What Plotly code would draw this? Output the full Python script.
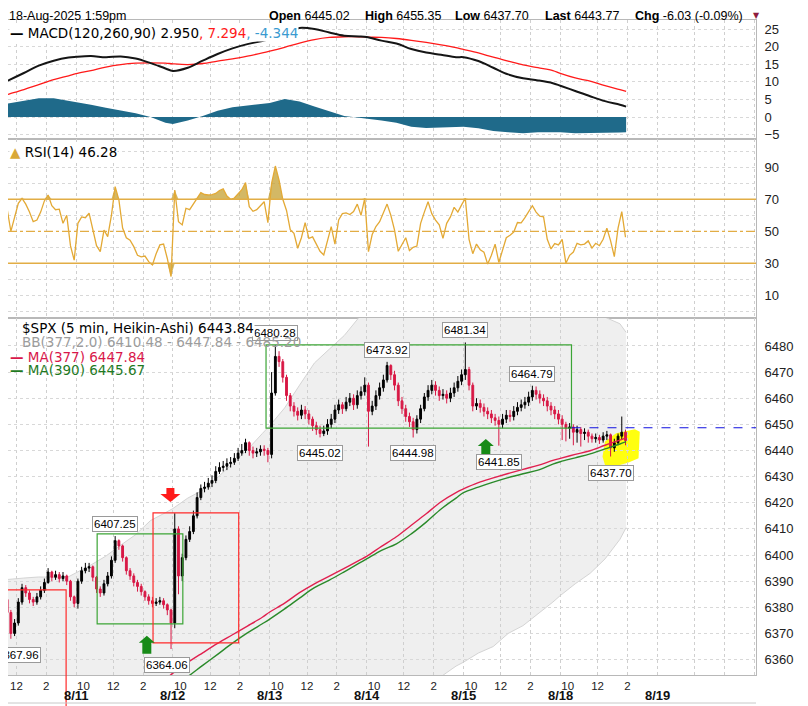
import plotly.graph_objects as go
from plotly.subplots import make_subplots

# trading sessions on the axis, each one is 78 five-minute bars wide (no overnight gaps)
SESSIONS = ["08-08", "08-11", "08-12", "08-13", "08-14", "08-15", "08-18", "08-19", "08-20"]
DATE_LABELS = ["8/11", "8/12", "8/13", "8/14", "8/15", "8/18", "8/19"]


def bar_pos(stamp):
    # "MM-DD HH:MM" -> position counted in 5 minute bars
    day, hm = stamp.split()
    h, m = hm.split(":")
    return SESSIONS.index(day) * 78 + (int(h) * 60 + int(m) - 570) / 5


header_names = ["Open", "High", "Low", "Last", "Chg"]
header_values = ["6445.02", "6455.35", "6437.70", "6443.77", "-6.03 (-0.09%)"]

# Heikin-Ashi bars at 15 minute steps
candle_days = ["08-08", "08-11", "08-12", "08-13", "08-14", "08-15", "08-18"]
candle_first = ["11:00", "09:30", "09:30", "09:30", "09:30", "09:30", "09:30"]
first_open = 6386.0

close_0808 = [6383, 6378, 6370, 6374, 6382, 6387.5, 6385.5, 6383, 6382, 6384, 6386.5, 6389.5, 6393.5, 6391.5,
              6392.5, 6391, 6392, 6390, 6384, 6381.5]
high_0808 = [6387, 6384, 6379, 6375.5, 6383.5, 6389, 6388.5, 6386.5, 6384, 6385.5, 6388, 6391, 6395, 6394,
             6394, 6393.5, 6393.5, 6392.5, 6390.5, 6384.5]
low_0808 = [6381, 6376, 6367.96, 6369, 6373, 6381, 6384, 6381.5, 6380.5, 6381, 6383, 6385.5, 6389, 6390,
            6390.5, 6389.5, 6390, 6388.5, 6382.5, 6380]

close_0811 = [6390, 6394, 6395, 6395.5, 6391.5, 6387, 6385.5, 6389, 6392, 6398, 6405.5, 6403.5, 6399, 6394,
              6392, 6389.5, 6388, 6386, 6384, 6382.5, 6381.5, 6382, 6382.5, 6381, 6379, 6374]
high_0811 = [6391, 6395.5, 6397, 6397, 6396, 6392, 6388, 6390.5, 6393.5, 6399.5, 6407.25, 6406, 6404, 6399.5,
             6395, 6393, 6390.5, 6389, 6386.5, 6385, 6384, 6383.5, 6384, 6383.5, 6381.5, 6379.5]
low_0811 = [6379.5, 6389, 6393, 6393.5, 6390, 6385.5, 6384, 6384.5, 6388, 6391, 6397, 6402, 6397.5, 6392.5,
            6390.5, 6388, 6386, 6384.5, 6382.5, 6381, 6380, 6380.5, 6381, 6379.5, 6377, 6364.06]

close_0812 = [6410, 6392, 6399, 6406, 6409, 6415, 6422, 6425.5, 6426, 6427.5, 6428.5, 6432, 6433.5, 6434,
              6435, 6435.5, 6437, 6439, 6440, 6443, 6440, 6439, 6439.5, 6440.5, 6440, 6438.5]
high_0812 = [6416, 6411, 6400.5, 6407.5, 6411, 6417, 6424, 6427, 6428, 6429.5, 6430.5, 6434, 6435.5, 6436,
             6437, 6437.5, 6439, 6441, 6442.5, 6444.5, 6443.5, 6441.5, 6441, 6442, 6442, 6441]
low_0812 = [6372, 6385, 6390, 6398, 6405, 6408, 6414, 6421, 6424, 6425, 6426, 6427.5, 6431, 6432,
            6432.5, 6433.5, 6434.5, 6436, 6438, 6439, 6438, 6437, 6437.5, 6438, 6438, 6435.5]

close_0813 = [6462, 6476, 6474, 6468, 6461, 6457, 6455, 6453.5, 6455.5, 6454, 6452, 6449.5, 6448, 6446.5,
              6447.5, 6450, 6452, 6455.5, 6457.5, 6456, 6458.5, 6460, 6457.5, 6461, 6462.5, 6465]
high_0813 = [6470, 6480.28, 6478, 6475, 6469, 6462, 6458.5, 6456.5, 6457.5, 6457, 6455.5, 6453, 6451, 6449.5,
             6449.5, 6452, 6454, 6457.5, 6459.5, 6458.5, 6460.5, 6462, 6461.5, 6463, 6464.5, 6468]
low_0813 = [6437, 6461, 6472, 6466, 6459, 6455, 6453, 6451.5, 6452, 6452, 6450, 6447.5, 6446, 6445.02,
            6445.5, 6446, 6448.5, 6450.5, 6454, 6454, 6455, 6457, 6455.5, 6456, 6459.5, 6461]

close_0814 = [6455, 6457, 6461, 6464, 6467, 6472.5, 6469, 6465, 6459, 6456, 6453, 6451, 6448, 6452,
              6456, 6460.5, 6463, 6465, 6463, 6461, 6461.5, 6460, 6462, 6464, 6466.5, 6469]
high_0814 = [6466, 6459, 6463, 6466, 6469, 6473.92, 6473, 6470.5, 6466, 6460.5, 6457.5, 6454.5, 6452.5, 6453.5,
             6457.5, 6462, 6465, 6467, 6466.5, 6464.5, 6463.5, 6463, 6464, 6466, 6468.5, 6471]
low_0814 = [6441.5, 6453.5, 6455.5, 6459.5, 6462.5, 6466, 6467, 6463, 6457, 6454, 6451, 6449, 6444.98, 6446.5,
            6450.5, 6455, 6459, 6461.5, 6461, 6459, 6459.5, 6458, 6458.5, 6460.5, 6462.5, 6465]

close_0815 = [6471, 6465, 6457, 6458, 6456.5, 6455, 6454, 6452.5, 6451.5, 6450, 6452, 6453.5, 6453, 6455,
              6456.5, 6457.5, 6458.5, 6460.5, 6463, 6461.5, 6460, 6459, 6457, 6455.5, 6454, 6452]
high_0815 = [6481.34, 6472, 6466, 6460, 6459.5, 6458, 6456.5, 6455.5, 6454, 6453, 6454, 6455.5, 6455.5, 6457,
             6458.5, 6459.5, 6460.5, 6462.5, 6464.79, 6464.5, 6463, 6461.5, 6460.5, 6458.5, 6457, 6455.5]
low_0815 = [6467, 6463, 6455, 6455.5, 6454.5, 6453, 6452, 6450.5, 6449.5, 6441.85, 6448.5, 6450.5, 6451, 6451.5,
            6453.5, 6455, 6456, 6457, 6459, 6459.5, 6458, 6457, 6455, 6453.5, 6452, 6450]

close_0818 = [6450, 6448.5, 6449, 6447, 6448, 6446.5, 6447, 6445.5, 6444.5, 6445, 6444, 6445.5, 6446, 6441,
              6443, 6445.5, 6447, 6443.8]
high_0818 = [6453.5, 6451, 6450.5, 6450, 6449.5, 6449, 6448.5, 6448, 6446.5, 6446.5, 6446, 6447, 6447.5, 6446.5,
             6444.5, 6446.5, 6453, 6448]
low_0818 = [6444, 6443.5, 6444.5, 6442, 6443, 6441.5, 6444, 6443, 6443, 6443, 6442.5, 6443, 6444, 6437.7,
            6439.5, 6442, 6444, 6442]

# RSI(14) at the same 15 minute steps
rsi_0808 = [68.5, 64, 50, 58, 67.5, 70.6, 67, 62, 56, 57, 62, 69, 72.7, 66, 63.5, 63.8, 55, 60, 41, 32]
rsi_0811 = [55, 59, 58.5, 61.3, 50.8, 41, 37.3, 50.8, 46.7, 60, 77.9, 69.6, 52, 46, 44.5, 40.4, 35, 34, 34.5,
            31, 29, 36, 41.5, 42, 33, 21.7]
rsi_0812 = [75.8, 56, 54, 64.4, 63.5, 67, 71, 74.2, 73, 72.7, 72.9, 73.7, 75.5, 76.5, 72, 70, 70.8, 73.2, 76,
            80.4, 65.4, 62.5, 63.5, 66, 68.5, 55.4]
rsi_0813 = [80, 90.8, 82, 70, 63, 51, 48.8, 39.4, 46, 55.4, 45.6, 46.5, 42, 37.5, 35.2, 45, 52.9, 42, 57.1,
            61, 61.5, 60.5, 62.3, 67, 60, 70.6]
rsi_0814 = [37.3, 48, 53, 56, 62, 67, 60, 50.8, 37.5, 42, 46, 38, 40, 40.8, 55, 62, 68.5, 61, 57, 54, 45.6,
            55, 59, 65, 62, 66.5]
rsi_0815 = [70.6, 45, 36, 42, 38.5, 37, 29.5, 35, 42, 30.5, 38, 46, 47.5, 49.5, 55.5, 55.3, 58.5, 62, 66, 62,
            59.5, 59, 45, 39, 42.3, 41.5]
rsi_0818 = [45, 30, 35, 37, 42.5, 41.5, 42, 44, 39.5, 42.5, 41, 45, 52, 44, 34.2, 52, 62.3, 46.28]

# slower indicators, read once an hour
HOURS = ["09:30", "10:30", "11:30", "12:30", "13:30", "14:30", "15:30"]
ind_times = (["08-08 " + t for t in HOURS[1:]]
             + [d + " " + t for d in SESSIONS[1:6] for t in HOURS]
             + ["08-18 " + t for t in HOURS[:5]] + ["08-18 13:55"])

macd_line = [8.6, 10.5, 12.5, 14.6, 16.0, 16.9,
             17.1, 17.3, 17.0, 17.2, 16.6, 15.3, 13.8,
             13.1, 14.0, 16.0, 17.9, 19.5, 20.7, 21.6,
             22.2, 24.3, 25.3, 25.0, 24.0, 23.1, 22.9,
             22.7, 21.7, 20.9, 19.3, 18.3, 17.7, 17.0,
             17.0, 15.9, 14.0, 12.1, 11.0, 10.4, 9.6,
             8.9, 7.4, 5.9, 4.5, 3.5, 2.95]
macd_signal = [5.2, 6.5, 7.8, 9.2, 10.6, 11.7,
               12.3, 13.2, 14.2, 14.9, 15.3, 15.4, 15.3,
               15.1, 14.9, 15.2, 15.9, 16.5, 17.3, 18.2,
               18.7, 19.8, 21.0, 22.0, 22.6, 22.8, 22.8,
               22.7, 22.6, 22.3, 21.8, 21.2, 20.5, 19.7,
               19.2, 18.2, 17.0, 15.9, 14.8, 14.0, 13.2,
               12.4, 11.1, 10.2, 8.9, 7.8, 7.294]
macd_hist = [3.2, 3.9, 4.7, 5.3, 5.3, 4.6,
             4.1, 3.5, 2.6, 1.8, 1.1, 0.0, -1.6,
             -2.0, -1.0, 0.3, 1.8, 2.8, 3.2, 3.6,
             4.0, 5.1, 4.4, 3.0, 1.7, 0.3, -0.2,
             -0.4, -1.0, -1.6, -2.8, -3.1, -3.0, -2.8,
             -2.8, -3.2, -4.0, -4.3, -4.6, -4.3, -4.2,
             -4.3, -4.6, -4.6, -4.5, -4.4, -4.344]

ma_377 = [None] * 11 + [6349, 6352.5,
                        6354.8, 6358.9, 6362.6, 6366.2, 6369.5, 6372.8, 6376.2,
                        6378.2, 6381.6, 6385.6, 6389.0, 6391.9, 6394.9, 6398.0,
                        6399.5, 6403.3, 6407.0, 6411.4, 6415.8, 6420.4, 6423.9,
                        6425.3, 6427.7, 6429.5, 6431.2, 6432.8, 6434.3, 6436.2,
                        6437.0, 6438.5, 6439.9, 6442.0, 6444.0, 6444.8]
ma_390 = [None] * 11 + [6344, 6347.8,
                        6349.7, 6353.5, 6357.8, 6362.0, 6366.3, 6370.2, 6373.7,
                        6375.5, 6379.4, 6383.5, 6387.5, 6390.4, 6393.6, 6396.9,
                        6398.5, 6401.8, 6404.3, 6408.1, 6412.6, 6417.6, 6421.8,
                        6423.9, 6426.0, 6427.9, 6429.6, 6431.1, 6432.5, 6434.8,
                        6435.7, 6437.2, 6438.7, 6440.6, 6442.5, 6443.4]
bb_upper = [6390.3, 6390.7, 6391.2, 6391.6, 6391.5, 6391.7,
            6393.2, 6396.2, 6399.6, 6403.8, 6407.8, 6413.2, 6416.2,
            6417.8, 6421.8, 6424.8, 6429.7, 6435.0, 6440.3, 6446.5,
            6449.5, 6456.3, 6465.0, 6473.5, 6478.8, 6484.0, 6491.0,
            6494, 6497, 6499, 6500, 6501, 6501, 6501,
            6501, 6500, 6500, 6499, 6498, 6497, 6496,
            6495, 6494, 6492.5, 6491, 6488.5, 6485.2]
bb_lower = [6342, 6341, 6340, 6339, 6338, 6338,
            6337, 6336, 6335, 6334, 6333, 6332, 6331,
            6330, 6329, 6328, 6327, 6327, 6327, 6328,
            6329, 6330, 6331, 6333, 6335, 6337, 6339,
            6341, 6343, 6345, 6347, 6349.5, 6353.5, 6357.5,
            6359, 6362.5, 6365, 6370, 6373, 6377.5, 6382,
            6384.5, 6389, 6393, 6398.5, 6406, 6410.48]

# price call-outs
peak_labels = ["6480.28", "6473.92", "6481.34", "6464.79", "6407.25"]
peak_times = ["08-13 09:45", "08-14 10:45", "08-15 09:30", "08-15 14:00", "08-11 12:00"]
trough_labels = ["6445.02", "6444.98", "6441.85", "6437.70", "6364.06", "6367.96"]
trough_times = ["08-13 12:45", "08-14 12:30", "08-15 11:45", "08-18 12:45", "08-11 15:30", "08-08 11:30"]
trough_shift = [0, 0, 0, 0, 0, 7]

# drawn boxes, arrows and highlight
box_starts = ["08-08 10:00", "08-11 10:55", "08-11 14:40", "08-12 15:45"]
box_ends = ["08-08 15:20", "08-12 10:10", "08-12 13:55", "08-18 10:15"]
box_lows = [6300, 6373.7, 6366.4, 6448.6]
box_highs = [6386.7, 6408.1, 6416.1, 6480.4]
box_colors = ["#ff2a2a", "#3ca536", "#ff2a2a", "#3ca536"]

arrow_times = ["08-11 15:50", "08-11 14:15", "08-15 11:00"]
arrow_prices = [6420.3, 6369.1, 6444.4]
arrow_dirs = ["down", "up", "up"]

hilite_times = ["08-18 12:30", "08-18 13:15", "08-18 14:30", "08-18 14:50", "08-18 14:45",
                "08-18 14:05", "08-18 13:15", "08-18 12:30", "08-18 12:20"]
hilite_prices = [6443.4, 6446.6, 6448.1, 6447.2, 6437.0, 6435.4, 6434.1, 6434.5, 6437.6]

blue_level = 6448.7
blue_from = "08-18 10:15"

# ---------------------------------------------------------------- build series
closes = [close_0808, close_0811, close_0812, close_0813, close_0814, close_0815, close_0818]
highs = [high_0808, high_0811, high_0812, high_0813, high_0814, high_0815, high_0818]
lows = [low_0808, low_0811, low_0812, low_0813, low_0814, low_0815, low_0818]
rsis = [rsi_0808, rsi_0811, rsi_0812, rsi_0813, rsi_0814, rsi_0815, rsi_0818]

cx, c_open, c_high, c_low, c_close, rsi_all = [], [], [], [], [], []
prev = first_open
for day, start, cl, hi, lo, rs in zip(candle_days, candle_first, closes, highs, lows, rsis):
    x0 = bar_pos(day + " " + start)
    for j in range(len(cl)):
        cx.append(x0 + 3 * j + 1.5)
        c_open.append(prev)
        c_close.append(cl[j])
        c_high.append(hi[j])
        c_low.append(lo[j])
        prev = cl[j]
    rsi_all += rs

ind_x = [bar_pos(t) for t in ind_times]
x_range = [bar_pos("08-08 11:26"), bar_pos("08-20 09:38")]

tick_x, tick_text = [], []
for d in SESSIONS[:7]:
    for t, lab in [("10:00", "10"), ("12:00", "12"), ("14:00", "2")]:
        tick_x.append(bar_pos(d + " " + t))
        tick_text.append(lab)
grid_x = [bar_pos(d + " " + t) for d in SESSIONS for t in ("09:30", "12:00", "14:00")]

# ---------------------------------------------------------------- figure
fig = make_subplots(rows=3, cols=1, shared_xaxes=True, vertical_spacing=0,
                    row_heights=[119, 179, 357])

fig.add_trace(go.Scatter(x=ind_x, y=macd_hist, mode="lines", line=dict(width=0, color="#1f6a8a"),
                         fill="tozeroy", fillcolor="#1f6a8a"), row=1, col=1)
fig.add_trace(go.Scatter(x=ind_x, y=macd_signal, mode="lines",
                         line=dict(color="#ff1a1a", width=1.3, shape="spline")), row=1, col=1)
fig.add_trace(go.Scatter(x=ind_x, y=macd_line, mode="lines",
                         line=dict(color="#151515", width=2, shape="spline")), row=1, col=1)

n = len(cx)
gold = "#e3a935"
fig.add_trace(go.Scatter(x=cx, y=[70] * n, mode="lines", line=dict(width=0)), row=2, col=1)
fig.add_trace(go.Scatter(x=cx, y=[max(v, 70) for v in rsi_all], mode="lines", line=dict(width=0),
                         fill="tonexty", fillcolor="rgba(196,160,50,0.75)"), row=2, col=1)
fig.add_trace(go.Scatter(x=cx, y=[30] * n, mode="lines", line=dict(width=0)), row=2, col=1)
fig.add_trace(go.Scatter(x=cx, y=[min(v, 30) for v in rsi_all], mode="lines", line=dict(width=0),
                         fill="tonexty", fillcolor="rgba(196,160,50,0.75)"), row=2, col=1)
fig.add_trace(go.Scatter(x=cx, y=rsi_all, mode="lines", line=dict(color=gold, width=1.3)), row=2, col=1)

fig.add_trace(go.Candlestick(x=cx, open=c_open, high=c_high, low=c_low, close=c_close,
                             increasing=dict(line=dict(color="black", width=1), fillcolor="black"),
                             decreasing=dict(line=dict(color="#d81845", width=1), fillcolor="#d81845"),
                             whiskerwidth=0), row=3, col=1)
fig.add_trace(go.Scatter(x=ind_x, y=ma_377, mode="lines",
                         line=dict(color="#e0204f", width=1.4, shape="spline")), row=3, col=1)
fig.add_trace(go.Scatter(x=ind_x, y=ma_390, mode="lines",
                         line=dict(color="#2a8a2a", width=1.4, shape="spline")), row=3, col=1)

# bollinger band as a background shape so the candles stay on top
up_pts = [f"{x},{y}" for x, y in zip(ind_x, bb_upper)]
lo_pts = [f"{x},{y}" for x, y in zip(ind_x, bb_lower)]
fig.add_shape(type="path", path="M" + " L".join(up_pts + lo_pts[::-1]) + " Z", xref="x3", yref="y3",
              fillcolor="#efefef", line_width=0, layer="below")
fig.add_shape(type="path", path="M" + " L".join(up_pts), xref="x3", yref="y3",
              line=dict(color="#d4d4d4", width=1), layer="below")
fig.add_shape(type="path", path="M" + " L".join(lo_pts), xref="x3", yref="y3",
              line=dict(color="#d4d4d4", width=1), layer="below")
hl = [f"{bar_pos(t)},{p}" for t, p in zip(hilite_times, hilite_prices)]
fig.add_shape(type="path", path="M" + " L".join(hl) + " Z", xref="x3", yref="y3",
              fillcolor="#ffff10", line_width=0, layer="below")

# RSI reference lines
for lvl, dash in [(70, "solid"), (30, "solid"), (50, "dashdot")]:
    fig.add_shape(type="line", xref="x2 domain", yref="y2", x0=0, x1=1, y0=lvl, y1=lvl,
                  line=dict(color="#e2ad45", width=1.5 if dash == "solid" else 1.2, dash=dash))

for s, e, lo, hi, col in zip(box_starts, box_ends, box_lows, box_highs, box_colors):
    fig.add_shape(type="rect", xref="x3", yref="y3", x0=bar_pos(s), x1=bar_pos(e), y0=lo, y1=hi,
                  line=dict(color=col, width=1.2))
# left red box keeps going below the axis
fig.add_shape(type="line", xref="x3", yref="paper", x0=bar_pos(box_ends[0]), x1=bar_pos(box_ends[0]),
              y0=0, y1=-31 / 655, line=dict(color=box_colors[0], width=1.2))
fig.add_shape(type="line", xref="x3", yref="y3", x0=bar_pos(blue_from), x1=x_range[1],
              y0=blue_level, y1=blue_level, line=dict(color="#1010e0", width=1.2, dash="dash"))

for t, p, d in zip(arrow_times, arrow_prices, arrow_dirs):
    if d == "down":
        path, col = "M0,0 L-10,8 L-4,8 L-4,14 L4,14 L4,8 L10,8 Z", "#ff1a1a"
    else:
        path, col = "M0,0 L-8,-7 L-4.5,-7 L-4.5,-18 L4.5,-18 L4.5,-7 L8,-7 Z", "#178a17"
    fig.add_shape(type="path", xref="x3", yref="y3", xsizemode="pixel", ysizemode="pixel",
                  xanchor=bar_pos(t), yanchor=p, path=path, fillcolor=col, line_width=0)

# separator of the next panel under the axis labels
fig.add_shape(type="line", xref="paper", yref="paper", x0=0, x1=1, y0=-28 / 655, y1=-28 / 655,
              line=dict(color="#c8c8c8", width=1))

lab_font = dict(family="Liberation Sans", size=11.5, color="black")
for txt, t in zip(peak_labels, peak_times):
    fig.add_annotation(x=bar_pos(t) + 1.5, y=float(txt), xref="x3", yref="y3", text=txt, showarrow=False,
                       yanchor="bottom", yshift=4, font=lab_font, bgcolor="white",
                       bordercolor="#9a9a9a", borderwidth=1, borderpad=1)
for txt, t, sh in zip(trough_labels, trough_times, trough_shift):
    fig.add_annotation(x=bar_pos(t) + 1.5, y=float(txt), xref="x3", yref="y3", text=txt, showarrow=False,
                       yanchor="top", yshift=-8, xshift=sh, font=lab_font, bgcolor="white",
                       bordercolor="#9a9a9a", borderwidth=1, borderpad=1)

for i, lab in enumerate(DATE_LABELS):
    fig.add_annotation(x=bar_pos(SESSIONS[i + 1] + " 09:30"), y=-20 / 655, xref="x3", yref="paper",
                       text="<b>" + lab + "</b>", showarrow=False, yanchor="middle",
                       font=dict(family="Liberation Sans", size=13, color="#111"))

# the page puts the figure 8px in from the corner; positions below are screen pixels
PLOT_L, PLOT_W, PLOT_B, PLOT_H = 8, 748, 675, 655


def note(text, px, py, size=13.5, color="black", family="DejaVu Sans", anchor="left", bg=None):
    fig.add_annotation(x=(px - PLOT_L) / PLOT_W, y=(PLOT_B - py) / PLOT_H, xref="paper", yref="paper",
                       text=text, showarrow=False, xanchor=anchor, yanchor="middle", bgcolor=bg, borderpad=0,
                       font=dict(size=size, color=color, family=family))


note("18-Aug-2025 1:59pm", 8, 16, size=12.5, family="Liberation Sans")
for name, val, px in zip(header_names, header_values, [268, 364, 454, 544, 634]):
    note("<b>" + name + "</b> " + val, px, 16, size=12.5, family="Liberation Sans")
note("▼", 757, 16, size=8, color="#8e1c3c", anchor="center")

note("<b>—</b> MACD(120,260,90) 2.950<span style='color:#ff1a1a'>, 7.294</span>"
     "<span style='color:#3a9ad0'>, -4.344</span>", 9, 33, bg="white")
note("<span style='color:#d9a838'>▲</span> RSI(14) 46.28", 9, 152, bg="white")
note("$SPX (5 min, Heikin-Ashi) 6443.84", 21, 328, bg="white")
note("BB(377,2.0) 6410.48 - 6447.84 - 6485.20", 21, 342, color="#9c9c9c")
note("<b>—</b> MA(377) 6447.84", 9, 357, color="#d8174a")
note("<b>—</b> MA(390) 6445.67", 9, 370, color="#1f7a1f")

# ---------------------------------------------------------------- axes
fig.update_xaxes(range=x_range, showgrid=False, zeroline=False, showline=True, mirror=True,
                 linecolor="#b8b8b8", linewidth=1, rangeslider_visible=False, ticks="",
                 showticklabels=False,
                 minor=dict(tickmode="array", tickvals=grid_x, showgrid=True, gridcolor="#cfcfcf",
                            griddash="dot", gridwidth=1, ticks=""))
fig.update_xaxes(row=3, col=1, showticklabels=True, tickmode="array", tickvals=tick_x, ticktext=tick_text,
                 tickfont=dict(family="Liberation Sans", size=11.5, color="#222"))

fig.update_yaxes(side="right", showgrid=True, gridcolor="#d8d8d8", griddash="dot", zeroline=False,
                 showline=True, mirror=True, linecolor="#b8b8b8", ticks="", ticklabelstandoff=5,
                 tickfont=dict(family="Liberation Sans", size=13, color="#222"))
fig.update_yaxes(row=1, col=1, range=[-6.25, 27.56], tickmode="array", tickvals=[-5, 0, 5, 10, 15, 20, 25])
fig.update_yaxes(row=2, col=1, range=[-4.2, 107.7], tickmode="array", tickvals=list(range(0, 101, 10)),
                 ticktext=["", "10", "", "30", "", "50", "", "70", "", "90", ""])
fig.update_yaxes(row=3, col=1, range=[6354.1, 6490.7], tickmode="array", tickvals=list(range(6360, 6481, 10)))

fig.update_layout(width=808, height=706, margin=dict(l=0, r=60, t=12, b=39), showlegend=False,
                  plot_bgcolor="white", paper_bgcolor="white", hovermode=False,
                  font=dict(family="Liberation Sans"))

fig.write_html("out.html")
